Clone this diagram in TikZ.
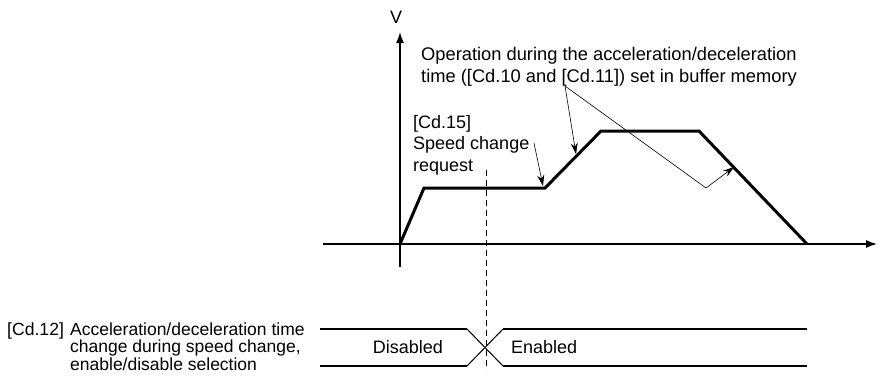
\documentclass[tikz,border=0pt]{standalone}
\usepackage{fontspec}
\setmainfont{Liberation Sans}
\usetikzlibrary{arrows.meta}
\begin{document}
\begin{tikzpicture}[x=1pt,y=-1pt,
  txt/.style={inner sep=0pt, align=left, font=\fontsize{18.3}{22}\selectfont},
  sigtxt/.style={inner sep=0pt, font=\fontsize{18}{18}\selectfont},
  axis/.style={line width=1.4pt, -{Latex[length=11pt,width=8pt]}},
  profile/.style={line width=3pt, line join=miter},
  note/.style={line width=0.6pt},
  notearrow/.style={line width=0.6pt, -{Stealth[length=11pt,width=7pt]}},
  sig/.style={line width=1.8pt},
  sigx/.style={line width=1pt}]
\useasboundingbox (0,0) rectangle (883,378);
% axes
\coordinate (o) at (400,244);
\coordinate (vbot) at (400,267);
\coordinate (vtop) at (400,32);
\coordinate (hleft) at (323,244);
\coordinate (hright) at (877,244);
\draw[axis] (vbot) -- (vtop);
\draw[axis] (hleft) -- (hright);
\node[sigtxt] (V) at (396,17) {V};
% profile
\coordinate (p1) at (424,188);
\coordinate (p2) at (545,188);
\coordinate (p3) at (601,131);
\coordinate (p4) at (699,131);
\coordinate (p5) at (807,244);
\draw[profile] (o) -- (p1) -- (p2) -- (p3) -- (p4) -- (p5);
% dashed line
\coordinate (d1) at (486,170);
\coordinate (d2) at (486,370);
\draw[dashed, dash pattern=on 6pt off 4pt, line width=0.8pt] (d1) -- (d2);
% annotations
\node[txt, anchor=base west] (op) at (421,82) {Operation during the acceleration/deceleration\\time ([Cd.10 and [Cd.11]) set in buffer memory};
\node[txt, anchor=base west, font=\fontsize{18}{21.5}\selectfont] (cd15) at (413,171) {[Cd.15]\\Speed change\\request};
\coordinate (pa) at (565,86);
\coordinate (ta) at (576,154);
\coordinate (pb) at (706,188);
\coordinate (tb) at (734,167);
\coordinate (sa) at (534,143);
\coordinate (sb) at (543,186);
\draw[notearrow] (pa) -- (ta);
\draw[note] (pa) -- (pb);
\draw[notearrow] (pb) -- (tb);
\draw[notearrow] (sa) -- (sb);
% signal
\coordinate (s1) at (320,329);
\coordinate (s2) at (467,329);
\coordinate (s3) at (503,366);
\coordinate (s4) at (807,366);
\coordinate (s5) at (320,366);
\coordinate (s6) at (467,366);
\coordinate (s7) at (503,329);
\coordinate (s8) at (807,329);
\draw[sig] (s1) -- (s2);
\draw[sig] (s5) -- (s6);
\draw[sig] (s3) -- (s4);
\draw[sig] (s7) -- (s8);
\draw[sigx] (s2) -- (s3);
\draw[sigx] (s6) -- (s7);
\node[sigtxt, anchor=base] (dis) at (408,353) {Disabled};
\node[sigtxt, anchor=base west] (en) at (511,353) {Enabled};
\node[sigtxt, anchor=base west, font=\fontsize{17.6}{18}\selectfont] (cd12) at (7,335) {[Cd.12]};
\node[txt, anchor=base west, font=\fontsize{17.5}{17.5}\selectfont] (cd12t) at (70,370) {Acceleration/deceleration time\\change during speed change,\\enable/disable selection};
\end{tikzpicture}
\end{document}
